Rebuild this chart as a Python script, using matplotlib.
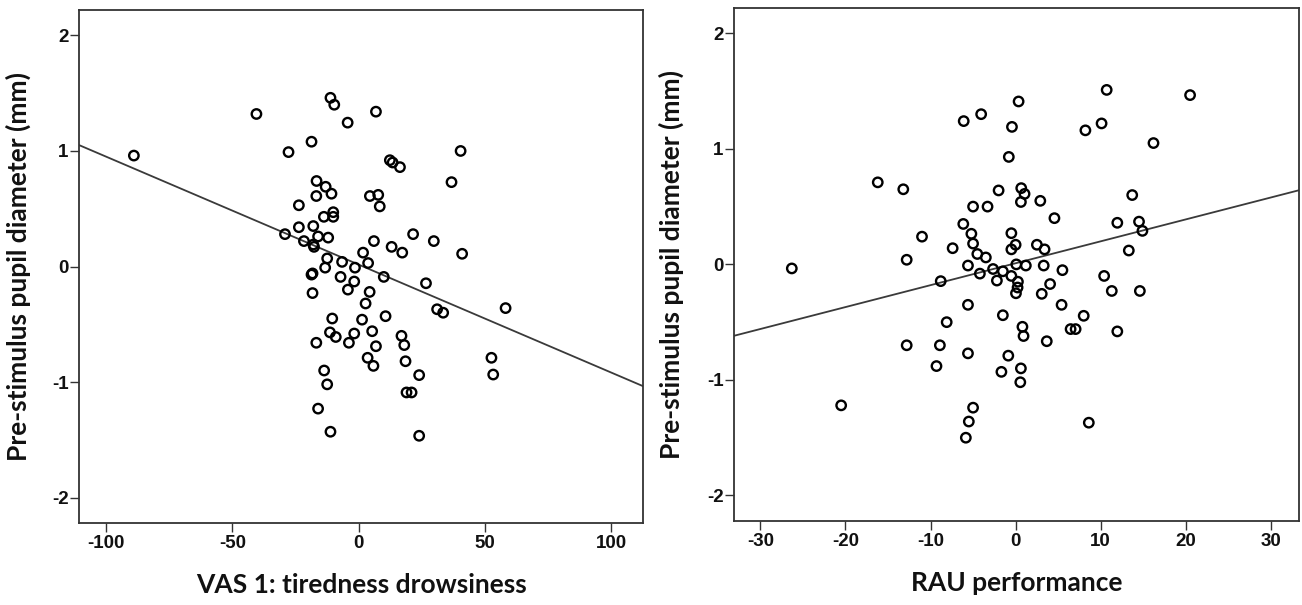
import numpy as np
import matplotlib
matplotlib.use("Agg")
import matplotlib.pyplot as plt

# Left panel: VAS 1 tiredness drowsiness vs pre-stimulus pupil diameter
vas_x = [-89.0, -40.5, -11.2, -9.7, 6.8, -4.4, -18.7, -27.8, 40.3, 12.3, 13.4, 16.3,
         36.7, -16.7, -13.1, -10.8, -16.8, 4.4, 7.7, 8.3, -23.7, -10.1, -10.1, -13.8,
         -23.7, -18.0, -29.2, -16.1, -12.1, -21.7, -18.0, -17.7, 6.0, 21.5, 29.7, 13.0,
         17.2, 40.9, 1.7, 3.7, -12.5, -13.3, -6.6, -1.5, -18.7, -18.3, -7.2, -1.8,
         9.9, -4.3, 4.3, -18.3, 2.7, 26.6, 31.0, 33.4, 58.1, -10.5, 1.3, 10.6,
         -11.4, -9.1, -1.8, 5.3, -3.9, -16.8, 16.9, 18.0, 6.8, 3.5, 5.8, 18.5,
         52.5, 53.2, -13.7, -12.5, 23.9, 18.9, 20.9, -16.1, -11.2, 23.9]
vas_y = [0.96, 1.32, 1.46, 1.40, 1.34, 1.245, 1.08, 0.99, 1.00, 0.92, 0.90, 0.86,
         0.73, 0.74, 0.69, 0.63, 0.61, 0.61, 0.62, 0.52, 0.53, 0.47, 0.43, 0.43,
         0.34, 0.35, 0.28, 0.26, 0.25, 0.22, 0.19, 0.17, 0.22, 0.28, 0.22, 0.17,
         0.12, 0.11, 0.12, 0.03, 0.07, -0.01, 0.04, -0.01, -0.07, -0.06, -0.09, -0.13,
         -0.09, -0.20, -0.22, -0.23, -0.32, -0.145, -0.37, -0.40, -0.36, -0.45, -0.46, -0.43,
         -0.57, -0.61, -0.58, -0.56, -0.66, -0.66, -0.60, -0.68, -0.69, -0.79, -0.86, -0.82,
         -0.79, -0.935, -0.90, -1.02, -0.94, -1.09, -1.09, -1.23, -1.43, -1.465]

# Right panel: RAU performance vs pre-stimulus pupil diameter
rau_x = [10.7, 0.35, -6.1, -4.05, -0.43, 8.2, 10.1, 16.2, -0.8, -16.2, -13.2, -2.0,
         0.66, 1.05, 0.62, 2.9, -5.0, -3.3, 4.56, 13.7, 11.95, 14.5, 14.9, 13.3,
         -6.15, -5.2, -11.0, -0.5, -5.0, 0.0, -0.5, 2.5, 3.4, -7.4, -12.8, -4.5,
         -3.5, -5.6, -4.2, -2.65, -1.5, -2.2, 0.08, 1.2, -0.5, 0.27, 0.23, 0.04,
         3.3, 5.5, 4.05, 3.07, -8.8, 10.4, 11.3, 14.6, -5.6, -1.5, 5.4, 8.0,
         -8.1, 0.8, 0.93, 3.66, 6.46, 7.05, 11.95, -12.8, -8.9, -5.6, -9.3, -0.86,
         -1.67, 0.62, 0.55, -20.5, -5.0, -5.5, -5.85, 8.6, -26.3, 20.5]
rau_y = [1.51, 1.41, 1.24, 1.30, 1.19, 1.16, 1.22, 1.05, 0.93, 0.71, 0.65, 0.64,
         0.66, 0.61, 0.54, 0.55, 0.50, 0.50, 0.40, 0.60, 0.36, 0.37, 0.29, 0.12,
         0.35, 0.265, 0.24, 0.27, 0.18, 0.17, 0.13, 0.17, 0.13, 0.14, 0.04, 0.09,
         0.06, -0.01, -0.08, -0.04, -0.06, -0.14, 0.00, -0.01, -0.10, -0.15, -0.20, -0.25,
         -0.01, -0.05, -0.17, -0.255, -0.145, -0.10, -0.23, -0.23, -0.35, -0.44, -0.35, -0.445,
         -0.50, -0.54, -0.62, -0.665, -0.56, -0.56, -0.58, -0.70, -0.70, -0.77, -0.88, -0.79,
         -0.93, -0.90, -1.02, -1.22, -1.24, -1.36, -1.50, -1.37, -0.035, 1.465]

y_label = "Pre-stimulus pupil diameter (mm)"
left_xlabel = "VAS 1: tiredness drowsiness"
right_xlabel = "RAU performance"
left_xticks = [-100, -50, 0, 50, 100]
right_xticks = [-30, -20, -10, 0, 10, 20, 30]
yticks = [-2, -1, 0, 1, 2]

fig = plt.figure(figsize=(13.02, 6.05), dpi=100)
ax1 = fig.add_axes([0.0607, 0.1355, 0.4332, 0.848])
ax2 = fig.add_axes([0.5637, 0.1390, 0.4340, 0.848])

label_font = dict(family="Lato", weight="bold", size=19)

def draw(ax, xs, ys, xlim, xticks, xlabel, ylab_x):
    xs = np.asarray(xs); ys = np.asarray(ys)
    ax.set_xlim(*xlim)
    ax.set_ylim(-2.22, 2.22)
    slope, intercept = np.polyfit(xs, ys, 1)
    lx = np.array(xlim)
    ax.plot(lx, intercept + slope * lx, color="#3a3a3a", lw=1.3, zorder=2)
    ax.scatter(xs, ys, s=46, facecolors="none", edgecolors="black",
               linewidths=1.7, zorder=3)
    ax.set_xticks(xticks)
    ax.set_yticks(yticks)
    ax.set_xticklabels([str(t) for t in xticks])
    ax.set_yticklabels([str(t) for t in yticks])
    ax.tick_params(axis="y", direction="out", length=6.5, width=1.0, color="#333333", pad=1,
                   labelsize=13.5, labelcolor="#111111")
    ax.tick_params(axis="x", direction="out", length=6.5, width=1.0, color="#333333", pad=2,
                   labelsize=13.5, labelcolor="#111111")
    for lab in ax.get_xticklabels() + ax.get_yticklabels():
        lab.set_fontfamily("Liberation Sans")
        lab.set_fontweight("bold")
        lab.set_fontsize(13.5)
    for sp in ax.spines.values():
        sp.set_color("#333333")
        sp.set_linewidth(1.3)
    ax.set_xlabel(xlabel, fontdict=label_font, labelpad=15, color="#111111")
    ax.set_ylabel(y_label, fontdict=label_font, color="#111111")
    ax.yaxis.set_label_coords(ylab_x, 0.5)

draw(ax1, vas_x, vas_y, (-110.7, 112.5), left_xticks, left_xlabel, -0.085)
draw(ax2, rau_x, rau_y, (-33.1, 33.3), right_xticks, right_xlabel, -0.088)

fig.savefig("out.png", dpi=100, facecolor="white")
